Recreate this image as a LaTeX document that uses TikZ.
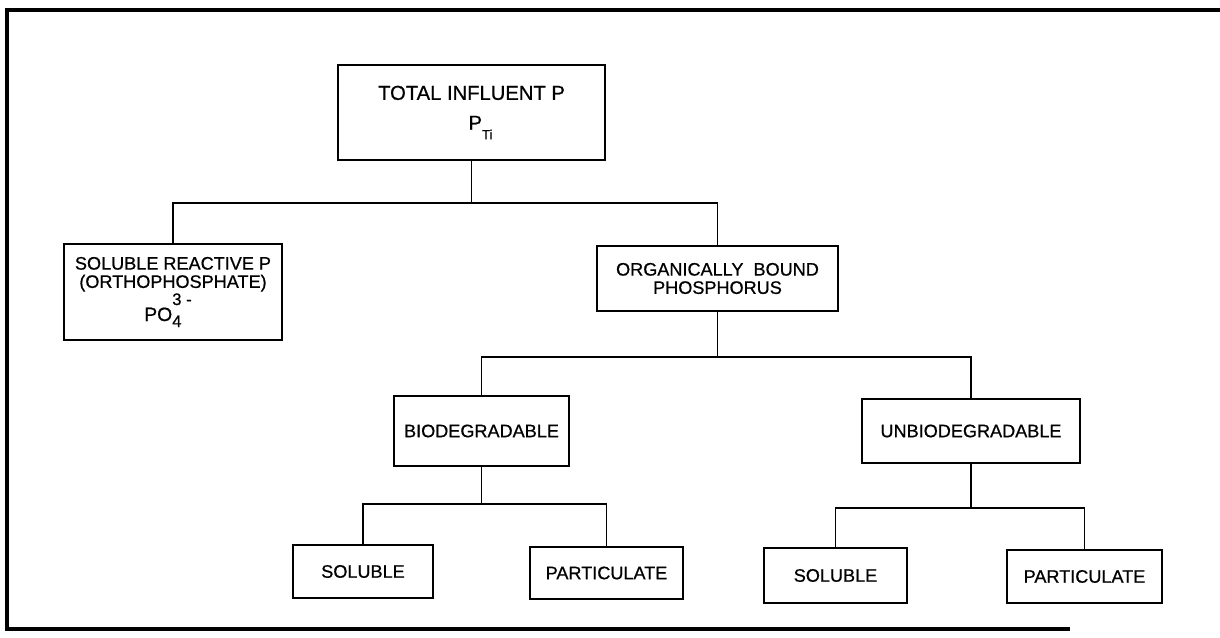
\documentclass[tikz,border=0pt]{standalone}
\usepackage{amsmath}
\usepackage{fontspec}
\setmainfont{Liberation Sans}[FakeBold=0.7]
\usetikzlibrary{positioning}

\tikzset{
	pbox/.style={draw, line width=1.6pt, align=center, inner sep=0pt,
		font=\fontsize{10.3}{10.4}\selectfont},
	link/.style={line width=0.6pt},
}
\newcommand{\scr}[1]{{\fontsize{9.5}{9.5}\selectfont #1}}

\begin{document}
\begin{tikzpicture}[x=0.02cm, y=-0.02cm]
		\useasboundingbox (0,0) rectangle (1220,638);
		\draw [line width=2pt] (1220,10) -- (7,10) -- (7,629) -- (1070,629);
		%
		\node [pbox, minimum width=5.34cm, minimum height=1.9cm,
			font=\fontsize{11.5}{13}\selectfont] (total) at (471.5,112.5)
			{TOTAL INFLUENT P\\[4pt]\hspace*{3.6mm}P\raisebox{-1.9mm}{\fontsize{7.5}{8}\selectfont Ti}};
		\node [pbox, minimum width=4.36cm, minimum height=1.92cm] (srp) at (173,292)
			{SOLUBLE REACTIVE P\\(ORTHOPHOSPHATE)\\{\fontsize{11}{12}\selectfont PO}\rlap{\raisebox{-1.2mm}{\scr{4}}}\raisebox{3.2mm}{\scr{3 -}}\hspace*{2mm}};
		\node [pbox, minimum width=4.82cm, minimum height=1.3cm] (obp) at (717.5,278.5)
			{ORGANICALLY \ BOUND\\PHOSPHORUS};
		\node [pbox, minimum width=3.5cm, minimum height=1.4cm] (bio) at (481.5,431) {BIODEGRADABLE};
		\node [pbox, minimum width=4.36cm, minimum height=1.28cm] (unbio) at (971,431) {UNBIODEGRADABLE};
		\node [pbox, minimum width=2.8cm, minimum height=1.06cm] (sol1) at (363,571.5) {SOLUBLE};
		\node [pbox, minimum width=3.06cm, minimum height=1.04cm] (part1) at (606.5,573) {PARTICULATE};
		\node [pbox, minimum width=2.86cm, minimum height=1.1cm] (sol2) at (835.5,575.5) {SOLUBLE};
		\node [pbox, minimum width=3.1cm, minimum height=1.06cm] (part2) at (1084.5,576.5) {PARTICULATE};
		%
		\coordinate (j1) at (total |- 0,203);
		\coordinate (j2) at (obp |- 0,357);
		\coordinate (j3) at (bio |- 0,504);
		\coordinate (j4) at (unbio |- 0,508);
		%
		\draw [link] (total) -- (j1);
		\draw [link] (j1) -| (srp);
		\draw [link] (j1) -| (obp);
		\draw [link] (obp) -- (j2);
		\draw [link] (j2) -| (bio);
		\draw [link] (j2) -| (unbio);
		\draw [link] (bio) -- (j3);
		\draw [link] (j3) -| (sol1);
		\draw [link] (j3) -| (part1);
		\draw [link] (unbio) -- (j4);
		\draw [link] (j4) -| (sol2);
		\draw [link] (j4) -| (part2);
	\end{tikzpicture}
\end{document}
